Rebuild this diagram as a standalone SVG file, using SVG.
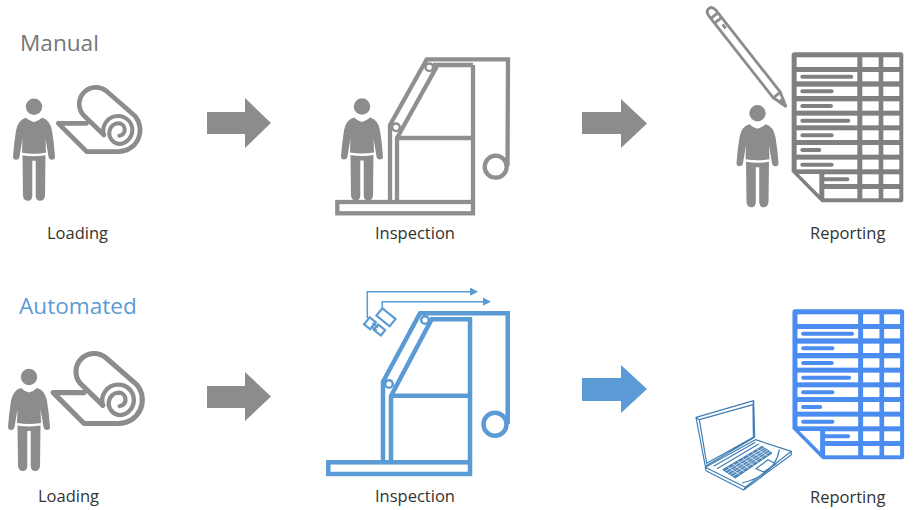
<svg xmlns="http://www.w3.org/2000/svg" width="922" height="510" viewBox="0 0 922 510">
<style>
text{font-family:"Open Sans","Noto Sans","Liberation Sans",sans-serif}
.h{font-size:22.6px}
.l{font-size:16.500px;fill:#333}
.fg{fill:none;stroke:#8f8f8f;stroke-width:4.300}
.fb{fill:none;stroke:#5b9bd5;stroke-width:4.500}
.rl{fill:none;stroke:#8c8c8c;stroke-width:14;stroke-linejoin:round;stroke-linecap:round}
.bar{stroke-width:12;stroke-linecap:round;fill:none}
.lap{fill:none;stroke:#3f7db5;stroke-width:3.500;stroke-linejoin:round}
</style>
<defs>
<g id="person" fill="#8c8c8c">
<circle cx="0" cy="0" r="8.200"/>
<path d="M-8,11 Q-5,14 0,15.500 Q5,14 8,11 Q16,13 18,24 Q20,36 21,50 Q21,53 18,53 Q15,53 14.500,50 L11.500,32 L12,46 Q0,48 -12,46 L-11.500,32 L-14.500,50 Q-15,53 -18,53 Q-21,53 -21,50 Q-20,36 -18,24 Q-16,13 -8,11Z"/>
<path d="M-11.500,48.500 Q0,50.500 11.500,48.500 L11,89 Q10.500,94 6,94 Q2,94 1.700,89 L1.700,54 L-1.700,54 L-1.700,89 Q-2,94 -6,94 Q-10.500,94 -11,89Z"/>
</g>
<g id="roll" class="rl">
<path d="M175,310 H260 M175,310 L260,395 H355 A65,65 0 0 0 405,288 L320,214 A50,50 0 0 0 250,285 L312,345"/>
<path d="M312,345 A44,44 0 0 1 355,288 A42,42 0 0 1 397,330 A42,42 0 0 1 360,372 A33,33 0 0 1 328,335 A28,28 0 0 1 355,310 A19,19 0 0 1 374,328 A17,17 0 0 1 358,347" stroke-width="12"/>
</g>
<g id="sheet">
<path d="M305,165 Q305,157 313,157 L632,157 Q640,157 640,165 L640,599 Q640,607 632,607 L395,607 L305,515Z"/>
<g fill="#fff">
<rect x="320" y="172" width="182" height="29"/><rect x="517" y="172" width="49" height="29"/><rect x="580" y="172" width="48" height="29"/>
<rect x="320" y="216" width="182" height="28"/><rect x="517" y="216" width="49" height="28"/><rect x="580" y="216" width="48" height="28"/>
<rect x="320" y="260" width="182" height="28"/><rect x="517" y="260" width="49" height="28"/><rect x="580" y="260" width="48" height="28"/>
<rect x="320" y="304" width="182" height="28"/><rect x="517" y="304" width="49" height="28"/><rect x="580" y="304" width="48" height="28"/>
<rect x="320" y="347" width="182" height="29"/><rect x="517" y="347" width="49" height="29"/><rect x="580" y="347" width="48" height="29"/>
<rect x="320" y="391" width="182" height="29"/><rect x="517" y="391" width="49" height="29"/><rect x="580" y="391" width="48" height="29"/>
<rect x="320" y="435" width="182" height="29"/><rect x="517" y="435" width="49" height="29"/><rect x="580" y="435" width="48" height="29"/>
<rect x="320" y="479" width="182" height="29"/><rect x="517" y="479" width="49" height="29"/><rect x="580" y="479" width="48" height="29"/>
<rect x="403" y="523" width="99" height="29"/><rect x="517" y="523" width="49" height="29"/><rect x="580" y="523" width="48" height="29"/>
<rect x="403" y="567" width="99" height="28"/><rect x="517" y="567" width="49" height="28"/><rect x="580" y="567" width="48" height="28"/>
<path d="M326,522 L388,522 L388,584Z"/>
</g>
</g>
</defs>
<g id="title-manual"><text class="h" x="20" y="51" fill="#767676">Manual</text></g>
<g id="title-automated"><text class="h" x="19" y="314" fill="#5b9bd5">Automated</text></g>

<g id="loading-manual">
<use href="#person" x="34" y="106.700"/>
<use href="#roll" transform="translate(0,20) scale(.3333)"/>
<text class="l" x="47" y="239">Loading</text>
</g>
<g id="inspection-manual">
<use href="#person" x="362" y="106.500"/>
<g class="fg">
<rect x="337.300" y="202" width="135.700" height="11.300"/>
<path d="M390,202 L390,125 L426.700,59.300 L508,59.300 L507.500,166"/>
<path d="M397,202 L397,138 L436.700,66.700 M397,138 L473,138 M433,65 L473,65 M473,65 L473,202"/>
<circle cx="495.700" cy="166.700" r="11"/>
<circle cx="429.300" cy="67.300" r="3.800" stroke-width="2.500" fill="#fff"/>
<circle cx="396" cy="127.300" r="3.800" stroke-width="2.500" fill="#fff"/>
</g>
<text class="l" x="375" y="239">Inspection</text>
</g>
<g id="reporting-manual">
<use href="#person" x="757.500" y="113.300"/>
<g transform="translate(785.500,106) rotate(51.800)" fill="none" stroke="#8c8c8c" stroke-width="2.800" stroke-linejoin="round">
<path d="M0,0 L-14,-4.500 L-118,-4.500 Q-124,-4.500 -124,0 Q-124,4.500 -118,4.500 L-14,4.500Z"/>
<path d="M-14,-4.500 L-14,4.500 M-109,-4.500 L-109,4.500 M-115,-4.500 L-115,4.500 M-103,-1 L-98,-1"/>
<path d="M0,0 L-7,-2.200 L-7,2.200Z" fill="#8c8c8c"/>
</g>
<g transform="translate(690,0) scale(.3333)">
<use href="#sheet" fill="#808080"/>
<path class="bar" stroke="#808080" d="M337,230H484M337,274H425M337,318H423M337,362H475M337,406H425M337,450H388M337,494H425M403,538H472"/>
</g>
<text class="l" x="810" y="239">Reporting</text>
</g>
<g id="loading-automated">
<use href="#person" x="29" y="377"/>
<use href="#roll" transform="translate(-10.400,280) scale(.3633)"/>
<text class="l" x="38" y="502">Loading</text>
</g>
<g id="inspection-automated">
<g class="fb">
<rect x="328.300" y="462.300" width="141.700" height="11.700"/>
<path d="M383,462 L383,381.700 L420,313.300 L507.700,313.300 L507.700,424"/>
<path d="M391,462 L391,396 L431.700,319.300 L470,319.300 L470,462 M391,395.700 L470,395.700"/>
<circle cx="495" cy="424.300" r="11.500"/>
<circle cx="425" cy="320" r="3.800" stroke-width="2.500" fill="#fff"/>
<circle cx="389" cy="384" r="3.800" stroke-width="2.500" fill="#fff"/>
</g>
<g fill="none" stroke="#5b9bd5" stroke-width="1.500">
<path d="M367.300,318 V291.700 H474 M382.300,308 V301.700 H487"/>
<path d="M470,287.500 L478,291.700 L470,295.800Z M483,297.500 L491,301.700 L483,305.800Z" fill="#5b9bd5" stroke="none"/>
<g stroke-width="2.200">
<rect x="-8.500" y="-4.700" width="17" height="9.400" transform="translate(386,317.300) rotate(39)"/>
<rect x="-4" y="-4.500" width="8" height="9" transform="translate(370,323.300) rotate(39)"/>
<rect x="-4.500" y="-3.500" width="9" height="7" transform="translate(379.500,330) rotate(39)"/>
<path d="M372.500,323 L378,327.500 M371,326 L376.500,330.500"/>
</g>
</g>
<text class="l" x="375" y="502">Inspection</text>
</g>
<g id="reporting-automated">
<g transform="translate(690.800,257) scale(.3333)">
<use href="#sheet" fill="#4a8cf0"/>
<path class="bar" stroke="#4a8cf0" d="M337,230H484M337,274H425M337,318H423M337,362H475M337,406H425M337,450H388M337,494H425M403,538H472"/>
</g>
<g transform="translate(692,398) scale(.3333)" class="lap">
<path d="M12,58 L185,8 L188,118 L40,205Z M22,65 L183,20 L184,118 L44,196Z M12,58 L22,65 M185,8 L183,20"/>
<path d="M40,208 L190,125 L298,160 L160,268Z M40,208 L42,218 L155,276 L298,170 L298,160 M160,268 L155,276"/>
<path d="M65,205 L190,133 M75,212 L200,138"/>
<path d="M92,215 L210,145 L240,165 L130,240Z" fill="#4f86ba" stroke-width="3"/>
<path stroke="#dbe7f2" stroke-width="2.500" d="M99.600,220L216,149M107,225L222,153M115,230L228,157M122,235L234,161M106.750,206.250L143.750,230.600M121.500,197.500L157.500,221.250M136.250,188.750L171.250,211.900M151,180L185,202.500M165.750,171.250L198.750,193.100M180.500,162.500L212.500,183.750M195.250,153.750L226.250,174.400"/>
<path d="M192,212 L228,185 L252,198 L215,222Z"/>
<path d="M150,255 Q250,230 262,155"/>
</g>
<text class="l" x="810" y="503">Reporting</text>
</g>
<g id="connectors">
<path fill="#8c8c8c" d="M207,112H245V98L271,123L245,148V134H207Z"/>
<path fill="#8c8c8c" d="M582,112H621V99L647,123.500L621,148V134H582Z"/>
<path fill="#8c8c8c" d="M207,386H245V372L271,396.500L245,421V408H207Z"/>
<path fill="#5b9bd5" d="M582,378H621V365L647,389L621,413V401H582Z"/>
</g>
</svg>
